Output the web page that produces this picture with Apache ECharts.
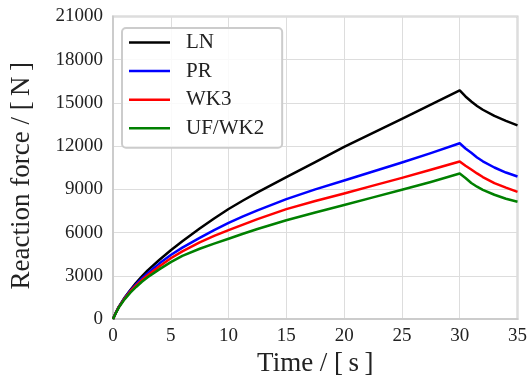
<!DOCTYPE html>
<html>
<head>
<meta charset="utf-8">
<script src="https://cdn.jsdelivr.net/npm/echarts@6/dist/echarts.min.js"></script>
<style>
  html, body { margin: 0; padding: 0; background: #fff; }
  #chart { width: 530px; height: 382px; }
</style>
</head>
<body>
<div id="chart"></div>
<script>
// Time samples [s] and reaction force [N] for each material model
const time = [0, 0.25, 0.5, 1, 1.5, 2, 2.5, 3, 4, 5, 6, 7.5, 8.75, 10, 11.25, 12.5, 15, 17.5, 20, 22.5, 25, 27.5, 30, 30.5, 31, 31.5, 32, 33, 34, 35];
const forceLN  = [0, 450, 850, 1480, 2020, 2520, 2960, 3380, 4100, 4780, 5400, 6280, 6980, 7640, 8230, 8790, 9850, 10900, 11950, 12930, 13900, 14880, 15870, 15450, 15100, 14790, 14530, 14100, 13760, 13450];
const forcePR  = [0, 450, 850, 1460, 1980, 2420, 2830, 3190, 3850, 4450, 4960, 5640, 6180, 6680, 7130, 7550, 8330, 9000, 9620, 10240, 10870, 11520, 12200, 11840, 11540, 11220, 10950, 10520, 10170, 9900];
const forceWK3 = [0, 440, 830, 1420, 1920, 2340, 2710, 3050, 3650, 4220, 4700, 5330, 5770, 6170, 6560, 6940, 7630, 8200, 8720, 9260, 9800, 10360, 10940, 10640, 10380, 10110, 9860, 9440, 9120, 8830];
const forceUF  = [0, 430, 800, 1370, 1840, 2230, 2590, 2900, 3450, 3950, 4390, 4880, 5240, 5580, 5920, 6250, 6860, 7400, 7920, 8450, 8980, 9520, 10100, 9790, 9450, 9190, 8970, 8630, 8350, 8150];

const seriesNames = ['LN', 'PR', 'WK3', 'UF/WK2'];
const seriesValues = [forceLN, forcePR, forceWK3, forceUF];
const seriesColors = ['#000000', '#0000ff', '#ff0000', '#008000'];

const xTicks = { min: 0, max: 35, interval: 5 };
const yTicks = { min: 0, max: 21000, interval: 3000 };

const FONT = 'Liberation Serif';
const TEXT = '#222222';
const FRAME = '#cccccc';
const GRIDLINE = '#dddddd';

const chart = echarts.init(document.getElementById('chart'), null, { renderer: 'canvas' });

chart.setOption({
  animation: false,
  backgroundColor: '#ffffff',
  grid: {
    left: 112.5, right: 10, top: 16.5, bottom: 62.5,
    show: true, borderColor: FRAME, borderWidth: 2, backgroundColor: 'transparent'
  },
  legend: {
    left: 122, top: 28,
    orient: 'vertical',
    data: seriesNames,
    icon: 'rect',
    itemWidth: 41, itemHeight: 2.5, itemGap: 7.6,
    padding: [4, 18, 9, 7],
    backgroundColor: 'rgba(255,255,255,0.85)',
    borderColor: FRAME, borderWidth: 2, borderRadius: 4,
    textStyle: { fontFamily: FONT, fontSize: 21, color: TEXT, lineHeight: 20, padding: [0, 0, 0, 11] }
  },
  xAxis: {
    type: 'value',
    min: xTicks.min, max: xTicks.max, interval: xTicks.interval,
    name: 'Time / [\u2009s\u2009]',
    nameLocation: 'middle', nameGap: 26,
    nameTextStyle: { fontFamily: FONT, fontSize: 27, color: TEXT },
    axisLine: { show: true, lineStyle: { color: FRAME, width: 2 } },
    axisTick: { show: false },
    axisLabel: { fontFamily: FONT, fontSize: 19, color: TEXT, margin: 7, formatter: v => String(v) },
    splitLine: { show: true, lineStyle: { color: GRIDLINE, width: 1 } }
  },
  yAxis: {
    type: 'value',
    min: yTicks.min, max: yTicks.max, interval: yTicks.interval,
    name: 'Reaction force / [\u2009N\u2009]',
    nameLocation: 'middle', nameGap: 78,
    nameTextStyle: { fontFamily: FONT, fontSize: 27, color: TEXT, padding: [0, 16, 0, 0] },
    axisLine: { show: true, lineStyle: { color: FRAME, width: 2 } },
    axisTick: { show: false },
    axisLabel: { fontFamily: FONT, fontSize: 19, color: TEXT, margin: 10, formatter: v => String(v) },
    splitLine: { show: true, lineStyle: { color: GRIDLINE, width: 1 } }
  },
  series: seriesNames.map((name, i) => ({
    name: name,
    type: 'line',
    data: time.map((t, k) => [t, seriesValues[i][k]]),
    showSymbol: false,
    smooth: false,
    color: seriesColors[i],
    lineStyle: { color: seriesColors[i], width: 2.5, join: 'round' },
    itemStyle: { color: seriesColors[i] },
    z: 2 + i
  }))
});
</script>
</body>
</html>
